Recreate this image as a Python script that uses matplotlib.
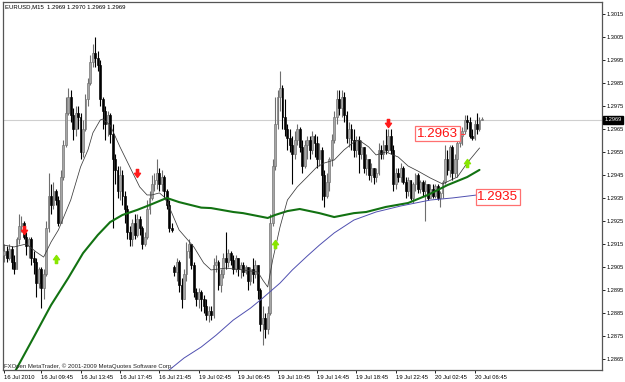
import matplotlib
matplotlib.use("Agg")
import matplotlib.pyplot as plt
import matplotlib.transforms as mtransforms
from matplotlib.path import Path
import numpy as np

# ---------------- data (EURUSD M15) ----------------
first_open = 1.2910
gap_opens = {69: 1.2905}          # weekend gap open

closes = [
    1.2912, 1.2909, 1.2913, 1.2907, 1.2904, 1.2917, 1.2923, 1.2924, 1.2918, 1.2914,
    1.2917, 1.2909, 1.2907, 1.2898, 1.2904, 1.2896, 1.2902, 1.2922, 1.2936, 1.2932,
    1.2938, 1.2934, 1.2924, 1.2944, 1.2958, 1.2972, 1.2979, 1.2971, 1.2965, 1.2972,
    1.2970, 1.2955, 1.2965, 1.2978, 1.2985, 1.2994, 1.2998, 1.2996, 1.2993, 1.2978,
    1.2973, 1.2967, 1.2971, 1.2963, 1.2952, 1.2947, 1.2938, 1.2945, 1.2936, 1.2930,
    1.2920, 1.2917, 1.2924, 1.2919, 1.2926, 1.2922, 1.2915, 1.2918, 1.2930, 1.2935,
    1.2941, 1.2943, 1.2946, 1.2941, 1.2944, 1.2938, 1.2932, 1.2922, 1.2921, 1.2903,
    1.2907, 1.2897, 1.2891, 1.2902, 1.2912, 1.2915, 1.2906, 1.2894, 1.2891, 1.2894,
    1.2891, 1.2888, 1.2884, 1.2886, 1.2884, 1.2906, 1.2907, 1.2897, 1.2902, 1.2909,
    1.2907, 1.2911, 1.2908, 1.2904, 1.2909, 1.2904, 1.2906, 1.2903, 1.2905, 1.2899,
    1.2904, 1.2902, 1.2906, 1.2895, 1.2880, 1.2883, 1.2878, 1.2885, 1.2924, 1.2949,
    1.2967, 1.2979, 1.2983, 1.2970, 1.2965, 1.2961, 1.2958, 1.2954, 1.2960, 1.2965,
    1.2957, 1.2949, 1.2958, 1.2960, 1.2956, 1.2962, 1.2959, 1.2952, 1.2956, 1.2945,
    1.2936, 1.2942, 1.2952, 1.2960, 1.2970, 1.2978, 1.2974, 1.2979, 1.2971, 1.2961,
    1.2965, 1.2960, 1.2956, 1.2960, 1.2954, 1.2957, 1.2948, 1.2952, 1.2945, 1.2948,
    1.2944, 1.2946, 1.2956, 1.2954, 1.2958, 1.2956, 1.2962, 1.2956, 1.2941, 1.2946,
    1.2944, 1.2948, 1.2942, 1.2938, 1.2943, 1.2935, 1.2941, 1.2945, 1.2939, 1.2942,
    1.2938, 1.2941, 1.2935, 1.2939, 1.2936, 1.2940, 1.2935, 1.2937, 1.2942, 1.2952,
    1.2947, 1.2957, 1.2946, 1.2952, 1.2959, 1.2962, 1.2964, 1.2969, 1.2968, 1.2962,
    1.2961, 1.2967, 1.2965, 1.2969, 1.2969,
]

highs = [
    1.2915, 1.2914, 1.2915, 1.2914, 1.2910, 1.2918, 1.2928, 1.2927, 1.2925, 1.2920,
    1.2918, 1.2918, 1.2912, 1.2909, 1.2905, 1.2905, 1.2904, 1.2925, 1.2946, 1.2941,
    1.2942, 1.2939, 1.2936, 1.2947, 1.2960, 1.2979, 1.2983, 1.2982, 1.2974, 1.2975,
    1.2975, 1.2972, 1.2969, 1.2980, 1.2987, 1.2997, 1.3002, 1.3005, 1.2999, 1.2995,
    1.2979, 1.2975, 1.2973, 1.2972, 1.2967, 1.2954, 1.2949, 1.2949, 1.2947, 1.2938,
    1.2932, 1.2923, 1.2926, 1.2928, 1.2928, 1.2927, 1.2923, 1.2920, 1.2934, 1.2938,
    1.2945, 1.2946, 1.2952, 1.2948, 1.2947, 1.2945, 1.2939, 1.2934, 1.2924, 1.2906,
    1.2909, 1.2908, 1.2900, 1.2904, 1.2916, 1.2917, 1.2915, 1.2907, 1.2896, 1.2896,
    1.2895, 1.2893, 1.2891, 1.2888, 1.2888, 1.2909, 1.2910, 1.2908, 1.2904, 1.2911,
    1.2920, 1.2913, 1.2912, 1.2910, 1.2910, 1.2909, 1.2907, 1.2907, 1.2906, 1.2905,
    1.2905, 1.2909, 1.2908, 1.2906, 1.2896, 1.2888, 1.2885, 1.2888, 1.2928, 1.2952,
    1.2979, 1.2982, 1.2990, 1.2984, 1.2978, 1.2967, 1.2965, 1.2962, 1.2964, 1.2967,
    1.2966, 1.2960, 1.2960, 1.2962, 1.2962, 1.2964, 1.2963, 1.2962, 1.2959, 1.2957,
    1.2947, 1.2946, 1.2953, 1.2963, 1.2973, 1.2982, 1.2982, 1.2982, 1.2981, 1.2973,
    1.2968, 1.2967, 1.2965, 1.2962, 1.2962, 1.2960, 1.2957, 1.2954, 1.2952, 1.2950,
    1.2948, 1.2948, 1.2959, 1.2958, 1.2960, 1.2965, 1.2965, 1.2965, 1.2958, 1.2948,
    1.2948, 1.2950, 1.2949, 1.2944, 1.2944, 1.2943, 1.2942, 1.2946, 1.2946, 1.2943,
    1.2943, 1.2943, 1.2941, 1.2941, 1.2941, 1.2941, 1.2941, 1.2938, 1.2943, 1.2958,
    1.2956, 1.2958, 1.2958, 1.2954, 1.2961, 1.2965, 1.2966, 1.2971, 1.2971, 1.2970,
    1.2965, 1.2969, 1.2972, 1.2970, 1.2970,
]

lows = [
    1.2907, 1.2907, 1.2908, 1.2904, 1.2902, 1.2904, 1.2915, 1.2920, 1.2917, 1.2910,
    1.2909, 1.2906, 1.2902, 1.2892, 1.2896, 1.2887, 1.2891, 1.2901, 1.2920, 1.2928,
    1.2930, 1.2932, 1.2923, 1.2924, 1.2943, 1.2957, 1.2971, 1.2968, 1.2960, 1.2962,
    1.2965, 1.2952, 1.2953, 1.2964, 1.2975, 1.2984, 1.2992, 1.2992, 1.2990, 1.2975,
    1.2965, 1.2960, 1.2962, 1.2959, 1.2922, 1.2941, 1.2935, 1.2934, 1.2932, 1.2924,
    1.2917, 1.2914, 1.2914, 1.2917, 1.2918, 1.2919, 1.2913, 1.2914, 1.2917, 1.2928,
    1.2934, 1.2938, 1.2939, 1.2938, 1.2938, 1.2935, 1.2930, 1.2920, 1.2920, 1.2901,
    1.2899, 1.2894, 1.2887, 1.2891, 1.2899, 1.2909, 1.2904, 1.2892, 1.2888, 1.2887,
    1.2886, 1.2885, 1.2882, 1.2881, 1.2882, 1.2883, 1.2903, 1.2895, 1.2894, 1.2900,
    1.2904, 1.2905, 1.2906, 1.2902, 1.2903, 1.2901, 1.2900, 1.2901, 1.2902, 1.2895,
    1.2897, 1.2898, 1.2900, 1.2891, 1.2877, 1.2871, 1.2874, 1.2876, 1.2884, 1.2923,
    1.2947, 1.2965, 1.2973, 1.2965, 1.2962, 1.2956, 1.2955, 1.2941, 1.2952, 1.2958,
    1.2955, 1.2946, 1.2948, 1.2952, 1.2952, 1.2954, 1.2953, 1.2948, 1.2949, 1.2934,
    1.2931, 1.2935, 1.2938, 1.2949, 1.2959, 1.2967, 1.2971, 1.2970, 1.2968, 1.2959,
    1.2957, 1.2956, 1.2953, 1.2953, 1.2946, 1.2952, 1.2946, 1.2945, 1.2943, 1.2942,
    1.2941, 1.2942, 1.2945, 1.2952, 1.2952, 1.2954, 1.2955, 1.2954, 1.2938, 1.2939,
    1.2942, 1.2942, 1.2941, 1.2935, 1.2936, 1.2934, 1.2933, 1.2938, 1.2937, 1.2937,
    1.2936, 1.2925, 1.2934, 1.2935, 1.2935, 1.2935, 1.2934, 1.2931, 1.2935, 1.2941,
    1.2945, 1.2944, 1.2943, 1.2944, 1.2944, 1.2957, 1.2958, 1.2963, 1.2965, 1.2961,
    1.2960, 1.2960, 1.2963, 1.2964, 1.2969,
]

# moving averages (bar index, value)
ma_fast_idx = [0, 4, 9, 13, 16, 19, 22, 25, 27, 31, 34, 36, 39, 40, 43, 47, 51, 55, 58,
               60, 63, 65, 67, 71, 77, 81, 84, 90, 97, 103, 105, 107, 109, 112, 115, 119,
               123, 127, 130, 134, 138, 142, 144, 148, 151, 155, 160, 164, 168, 173, 178,
               184, 188, 193]
ma_fast_val = [1.29145, 1.29137, 1.29150, 1.29115, 1.29093, 1.29158, 1.29211, 1.29289,
               1.29341, 1.29485, 1.29559, 1.29633, 1.29689, 1.29693, 1.29667, 1.29572,
               1.29485, 1.29398, 1.29363, 1.29363, 1.29372, 1.29354, 1.29311, 1.29211,
               1.29137, 1.29067, 1.29037, 1.29045, 1.29037, 1.29028, 1.28993, 1.28963,
               1.29080, 1.29224, 1.29341, 1.29398, 1.29441, 1.29485, 1.29502, 1.29515,
               1.29559, 1.29593, 1.29602, 1.29572, 1.29537, 1.29550, 1.29528, 1.29489,
               1.29467, 1.29437, 1.29411, 1.29441, 1.29502, 1.29567]

ma_mid_idx = [4, 12, 19, 26, 32, 38, 43, 48, 54, 59, 66, 71, 80, 84, 93, 97, 107, 110,
              115, 120, 128, 134, 142, 147, 155, 164, 172, 180, 188, 193]
ma_mid_val = [1.28588, 1.28745, 1.28884, 1.29002, 1.29110, 1.29189, 1.29245, 1.29276,
              1.29298, 1.29319, 1.29350, 1.29332, 1.29308, 1.29306, 1.29289, 1.29284,
              1.29263, 1.29276, 1.29293, 1.29302, 1.29284, 1.29267, 1.29284, 1.29289,
              1.29311, 1.29328, 1.29363, 1.29406, 1.29441, 1.29472]

ma_slow_idx = [67, 73, 80, 86, 93, 100, 105, 112, 117, 123, 128, 134, 142, 151, 161, 173,
               182, 192]
ma_slow_val = [1.28602, 1.28654, 1.28702, 1.28753, 1.28819, 1.28871, 1.28915, 1.28980,
               1.29037, 1.29097, 1.29145, 1.29198, 1.29254, 1.29289, 1.29315, 1.29341,
               1.29350, 1.29363]

sell_idx = [8, 54, 156]
sell_val = [1.29211, 1.29458, 1.29676]
buy_idx = [21, 110, 188]
buy_val = [1.29084, 1.29150, 1.29502]

bid_price = 1.2969
label1_text, label1_price, label1_idx = "1.2963", 1.2963, 176
label2_text, label2_price, label2_idx = "1.2935", 1.29354, 200.5

xtick_idx = [0, 15, 31, 47, 63, 79, 95, 111, 127, 143, 159, 175, 191]
xtick_labels = ["16 Jul 2010", "16 Jul 09:45", "16 Jul 13:45", "16 Jul 17:45",
                "16 Jul 21:45", "19 Jul 02:45", "19 Jul 06:45", "19 Jul 10:45",
                "19 Jul 14:45", "19 Jul 18:45", "19 Jul 22:45", "20 Jul 02:45",
                "20 Jul 06:45"]
ytick_vals = [1.2865, 1.2875, 1.2885, 1.2895, 1.2905, 1.2915, 1.2925, 1.2935, 1.2945,
              1.2955, 1.2965, 1.2975, 1.2985, 1.2995, 1.3005, 1.3015]

header = "EURUSD,M15  1.2969 1.2970 1.2969 1.2969"
footer = "FXOpen MetaTrader, \u00a9 2001-2009 MetaQuotes Software Corp."

# ---------------- figure ----------------
FONT = "Liberation Sans"
fig = plt.figure(figsize=(6.25, 3.82), dpi=100)
fig.patch.set_facecolor("white")
ax = fig.add_axes([3 / 625, 12 / 382, 599 / 625, 368 / 382])
ax.set_facecolor("white")

n = len(closes)
opens = [first_open] + closes[:-1]
for k, v in gap_opens.items():
    opens[k] = v
x = np.arange(n)
o = np.array(opens); c = np.array(closes); h = np.array(highs); l = np.array(lows)
up = c >= o

bull_face, bull_edge = "#a6a6a6", "#6e6e6e"
bear_face = "#000000"

ax.vlines(x[up], l[up], h[up], color=bull_edge, lw=0.8, zorder=2)
ax.vlines(x[~up], l[~up], h[~up], color="black", lw=0.8, zorder=2)
body_lo = np.minimum(o, c)
body_h = np.maximum(np.abs(c - o), 0.00003)
ax.bar(x[up], body_h[up], bottom=body_lo[up], width=0.75, color=bull_face,
       edgecolor=bull_edge, linewidth=0.45, zorder=3)
ax.bar(x[~up], body_h[~up], bottom=body_lo[~up], width=0.75, color=bear_face,
       edgecolor="black", linewidth=0.45, zorder=3)

# bid line
ax.axhline(bid_price, color="#cfcfcf", lw=0.8, zorder=1)

# moving averages
ax.plot(ma_mid_idx, ma_mid_val, color="#127212", lw=1.5, zorder=4, solid_capstyle="round")
ax.plot(ma_slow_idx, ma_slow_val, color="#4f4fb0", lw=0.7, zorder=4)
ax.plot(ma_fast_idx, ma_fast_val, color="#3a3a3a", lw=0.55, zorder=4)

# arrows
down_arrow = Path([(-0.28, 1), (0.28, 1), (0.28, 0.05), (0.75, 0.05), (0, -1),
                   (-0.75, 0.05), (-0.28, 0.05), (-0.28, 1)],
                  [Path.MOVETO] + [Path.LINETO] * 6 + [Path.CLOSEPOLY])
up_arrow = Path([(vx, -vy) for vx, vy in down_arrow.vertices], down_arrow.codes)
ax.plot(sell_idx, sell_val, linestyle="none", marker=down_arrow, ms=5.8,
        color="#ff1a1a", mec="#ff1a1a", zorder=6)
ax.plot(buy_idx, buy_val, linestyle="none", marker=up_arrow, ms=5.8,
        color="#88e600", mec="#88e600", zorder=6)

# price labels
lbl_kw = dict(ha="center", va="center", color="#ff1010", fontsize=9.6,
              family=FONT, zorder=7,
              bbox=dict(boxstyle="square,pad=0.12", facecolor="white",
                        edgecolor="#ff7070", linewidth=0.9))
ax.text(label1_idx, label1_price, label1_text, **lbl_kw)
ax.plot([184.4, 186.6], [label1_price - 0.00003, label1_price - 0.00003],
        color="#ff4040", lw=0.8, zorder=6)
ax.text(label2_idx, label2_price, label2_text, **lbl_kw)

# axes limits / ticks
ax.set_xlim(-0.5, -0.5 + 599 / 2.4625)
ax.set_ylim(1.28602, 1.30202)
ax.yaxis.tick_right()
ax.set_yticks(ytick_vals)
ax.set_yticklabels([f"{v:.4f}" for v in ytick_vals], family=FONT, fontsize=4.1)
ax.set_xticks(xtick_idx)
ax.set_xticklabels(xtick_labels, family=FONT, fontsize=4.2, ha="left")
ax.tick_params(axis="y", direction="out", length=2.2, width=0.6, pad=1.0, colors="black")
ax.tick_params(axis="x", direction="out", length=2.5, width=0.6, pad=1.2, colors="black")
for lab in ax.get_xticklabels():
    lab.set_horizontalalignment("left")

for sp in ax.spines.values():
    sp.set_color("#555555")
    sp.set_linewidth(0.9)

# current price box on axis
trans = mtransforms.blended_transform_factory(ax.transAxes, ax.transData)
ax.text(1.004, bid_price, "1.2969", transform=trans, ha="left", va="center",
        color="white", fontsize=4.1, family=FONT, zorder=8, clip_on=False,
        bbox=dict(boxstyle="square,pad=0.3", facecolor="black", edgecolor="black"))

fig.text(5 / 625, 1 - 6.5 / 382, header, ha="left", va="center",
         fontsize=4.3, family=FONT, color="black")
fig.text(4 / 625, 1 - 366.5 / 382, footer, ha="left", va="center",
         fontsize=4.3, family=FONT, color="#222222")

fig.savefig("out.png", dpi=100, facecolor="white")
